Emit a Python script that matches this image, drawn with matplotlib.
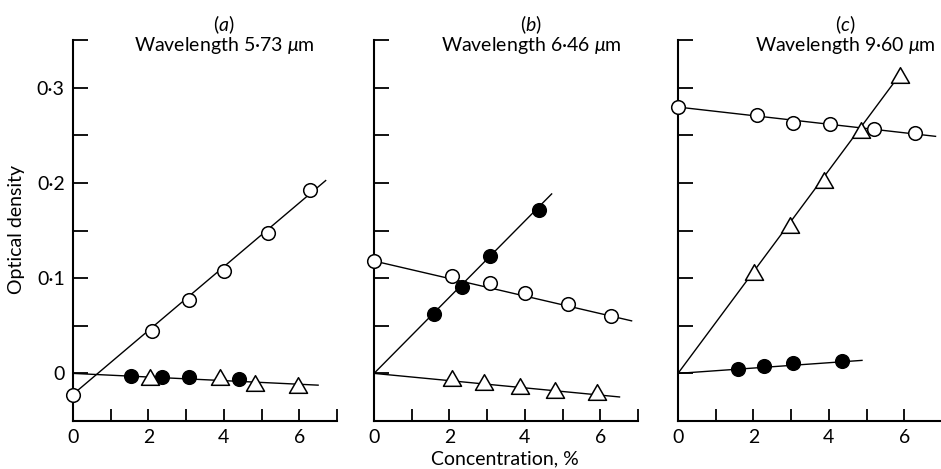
import numpy as np
import matplotlib
matplotlib.use("Agg")
import matplotlib.pyplot as plt
from matplotlib.path import Path

plt.rcParams["font.family"] = ["Lato", "DejaVu Sans"]
plt.rcParams["mathtext.fontset"] = "custom"
plt.rcParams["mathtext.rm"] = "Lato"
plt.rcParams["mathtext.it"] = "Lato:italic"

# concentration (%) vs optical density
a_open_x = [0, 2.1, 3.08, 4.0, 5.18, 6.29]
a_open_y = [-0.0225, 0.045, 0.0775, 0.107, 0.147, 0.193]
a_fill_x = [1.55, 2.35, 3.08, 4.39]
a_fill_y = [-0.003, -0.0035, -0.004, -0.0063]
a_tri_x = [2.04, 3.89, 4.82, 5.96]
a_tri_y = [-0.004, -0.004, -0.010, -0.0126]

b_open_x = [0, 2.08, 3.08, 4.0, 5.15, 6.28]
b_open_y = [0.118, 0.1025, 0.0948, 0.0848, 0.0725, 0.060]
b_fill_x = [1.58, 2.33, 3.08, 4.37]
b_fill_y = [0.062, 0.0905, 0.123, 0.1715]
b_tri_x = [2.07, 2.92, 3.86, 4.81, 5.91]
b_tri_y = [-0.005, -0.009, -0.013, -0.017, -0.020]

c_open_x = [0, 2.10, 3.05, 4.02, 5.21, 6.29]
c_open_y = [0.2796, 0.2708, 0.2627, 0.262, 0.2563, 0.2528]
c_tri_x = [2.01, 2.96, 3.87, 4.85, 5.88]
c_tri_y = [0.1065, 0.156, 0.2026, 0.2556, 0.3136]
c_fill_x = [1.60, 2.28, 3.05, 4.34]
c_fill_y = [0.0047, 0.0074, 0.011, 0.0135]

# fitted lines: (intercept, slope, end of line)
a_lines = [(-0.022, 0.0335, 6.7), (0.0, -0.0019, 6.5)]
b_lines = [(0.118, -0.0092, 6.83), (0.0, 0.040, 4.71), (0.0, -0.0038, 6.51)]
c_lines = [(0.2796, -0.0045, 6.83), (0.0, 0.0533, 5.95), (0.0, 0.0028, 4.88)]

panel_letters = ["a", "b", "c"]
wavelengths = ["5·73", "6·46", "9·60"]
title_x = [0.573, 0.594, 0.633]

x_ticks = [0, 1, 2, 3, 4, 5, 6, 7]
x_ticklabels = ["0", "", "2", "", "4", "", "6", ""]
y_ticks = [0, 0.05, 0.1, 0.15, 0.2, 0.25, 0.3, 0.35]
y_ticklabels = ["0", "", "0·1", "", "0·2", "", "0·3", ""]

# equilateral-ish open triangle, centred at mid-height
tri = Path([(-1, -0.866), (1, -0.866), (0, 0.866), (-1, -0.866)], closed=True)
open_kw = dict(marker="o", ms=9.8, mfc="white", mec="black", mew=1.1, ls="none", zorder=3)
fill_kw = dict(marker="o", ms=9.8, mfc="black", mec="black", mew=1.1, ls="none", zorder=3)
tri_kw = dict(marker=tri, ms=13, mfc="white", mec="black", mew=1.1, ls="none", zorder=3)

panels = [
    (a_lines, [(a_open_x, a_open_y, open_kw), (a_fill_x, a_fill_y, fill_kw), (a_tri_x, a_tri_y, tri_kw)]),
    (b_lines, [(b_open_x, b_open_y, open_kw), (b_fill_x, b_fill_y, fill_kw), (b_tri_x, b_tri_y, tri_kw)]),
    (c_lines, [(c_open_x, c_open_y, open_kw), (c_tri_x, c_tri_y, tri_kw), (c_fill_x, c_fill_y, fill_kw)]),
]

fig = plt.figure(figsize=(9.41, 4.69), dpi=100)
lefts = [0.0776, 0.3975, 0.7205]

for i, (lines, series) in enumerate(panels):
    ax = fig.add_axes([lefts[i], 0.1023, 0.2805, 0.8124])
    for b0, m, xe in lines:
        xs = np.array([0.0, xe])
        ax.plot(xs, b0 + m * xs, color="black", lw=1.0, zorder=2)
    for xs, ys, kw in series:
        ax.plot(xs, ys, clip_on=False, **kw)

    ax.set_xlim(0, 7)
    ax.set_ylim(-0.05, 0.35)
    for s in ["top", "right"]:
        ax.spines[s].set_visible(False)
    for s in ["left", "bottom"]:
        ax.spines[s].set_linewidth(1.5)

    ax.set_xticks(x_ticks)
    ax.set_xticklabels(x_ticklabels)
    ax.set_yticks(y_ticks)
    if i == 0:
        ax.set_yticklabels(y_ticklabels)
    else:
        ax.set_yticklabels([])
    ax.tick_params(axis="x", direction="in", length=8.5, width=1.3, pad=6, labelsize=14)
    ax.tick_params(axis="y", direction="in", length=11, width=1.3, pad=6, labelsize=14)

    ax.text(title_x[i], 1.04, "($\\it{%s}$)" % panel_letters[i], transform=ax.transAxes,
            ha="center", va="center", fontsize=14)
    ax.text(title_x[i], 0.985, "Wavelength %s $\\mu$m" % wavelengths[i], transform=ax.transAxes,
            ha="center", va="center", fontsize=14)

fig.text(0.018, 0.51, "Optical density", rotation=90, ha="center", va="center", fontsize=14)
fig.text(0.537, 0.004, "Concentration, %", ha="center", va="bottom", fontsize=14)

fig.savefig("out.png", dpi=100)
